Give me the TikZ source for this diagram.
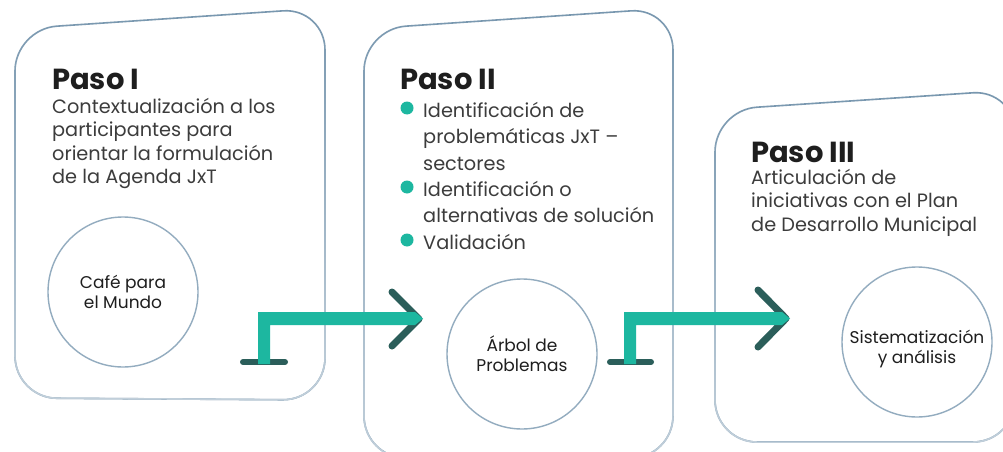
\documentclass[tikz,border=0pt]{standalone}
\usepackage{fontspec}
\setmainfont{Poppins}
\usetikzlibrary{fadings}
\definecolor{framedark}{HTML}{7897AF}
\definecolor{framelight}{HTML}{C2D0DB}
\definecolor{teal}{HTML}{1DB7A0}
\definecolor{darkteal}{HTML}{2B5E5A}
\definecolor{bodytext}{HTML}{3C3C3C}
\definecolor{titletext}{HTML}{1E1E1E}
\tikzset{
  panel/.style={draw=framedark, line width=1.6pt, rounded corners=42pt},
  panelfade/.style={draw=framelight, line width=1.6pt, rounded corners=42pt, path fading=north},
  ring/.style={circle, draw=framedark!80!white, line width=1.4pt, minimum size=150pt, inner sep=0pt,
     align=center, text=titletext, font=\fontsize{17}{20}\selectfont},
  title/.style={anchor=base west, inner sep=0pt, text=titletext, font=\fontsize{29}{32}\bfseries\selectfont},
  body/.style={anchor=base west, inner sep=0pt, align=left, text=bodytext, font=\fontsize{19.3}{23.5}\selectfont},
  bodyb/.style={anchor=base west, inner sep=0pt, align=left, text=bodytext, font=\fontsize{19.3}{26.5}\selectfont},
  dot/.style={circle, fill=teal, minimum size=13pt, inner sep=0pt},
  basebar/.style={draw=darkteal, line width=6pt, line cap=round},
  chevron/.style={draw=darkteal, line width=7pt, line cap=round, line join=round},
  flow/.style={fill=teal}
}
\begin{document}
\begin{tikzpicture}[x=1pt,y=-1pt]
\useasboundingbox (0,0) rectangle (1003,452);
\fill[white] (0,0) rectangle (1003,452);

% panels
\draw[panel] (15,29) -- (325,8) -- (325,400) -- (15,398) -- cycle;
\draw[panelfade] (15,29) -- (325,8) -- (325,400) -- (15,398) -- cycle;
\draw[panel] (364,29) -- (673,8) -- (673,458) -- (364,458) -- cycle;
\draw[panelfade] (364,29) -- (673,8) -- (673,458) -- (364,458) -- cycle;
\draw[panel] (715,110) -- (1015,90) -- (1015,442) -- (715,442) -- cycle;
\draw[panelfade] (715,110) -- (1015,90) -- (1015,442) -- (715,442) -- cycle;

% circles
\node[ring] (c1) at (123,292) {Café para\\el Mundo};
\node[ring] (c2) at (522,354) {Árbol de\\Problemas};
\node[ring] (c3) at (917,342) {\rule{0pt}{28pt}Sistematización\\y análisis};

% Paso I  (base anchor = baseline of last line)
\node[title] (t1) at (52,89) {Paso I};
\node[body] (b1) at (52,183.5) {Contextualización a los\\participantes para\\orientar la formulación\\de la Agenda JxT};

% Paso II
\node[title] (t2) at (400,89) {Paso II};
\node[dot] (d1) at (407,108) {};
\node[bodyb] (i1) at (423,170) {Identificación de\\problemáticas JxT –\\sectores};
\node[dot] (d2) at (407,187) {};
\node[bodyb] (i2) at (423,222.5) {Identificación o\\alternativas de solución};
\node[dot] (d3) at (407,240) {};
\node[bodyb] (i3) at (423,249) {Validación};

% Paso III
\node[title] (t3) at (751,162) {Paso III};
\node[body] (b3) at (751,231) {Articulación de\\iniciativas con el Plan\\de Desarrollo Municipal};

% arrow 1
\coordinate (a1l) at (243,362);
\coordinate (a1r) at (285,362);
\coordinate (a1u) at (392,292);
\coordinate (a1t) at (419,319);
\coordinate (a1d) at (392,346);
\draw[basebar] (a1l) -- (a1r);
\draw[chevron] (a1u) -- (a1t) -- (a1d);
\fill[flow] (258,364) -- (258,312) -- (415,312) -- (423,318.5) -- (415,325) -- (270,325) -- (270,364) -- cycle;

% arrow 2
\coordinate (a2l) at (610,362);
\coordinate (a2r) at (651,362);
\coordinate (a2u) at (758,290);
\coordinate (a2t) at (786,318.5);
\coordinate (a2d) at (758,347);
\draw[basebar] (a2l) -- (a2r);
\draw[chevron] (a2u) -- (a2t) -- (a2d);
\fill[flow] (624,364) -- (624,312) -- (782,312) -- (790,318.5) -- (782,325) -- (636,325) -- (636,364) -- cycle;
\end{tikzpicture}
\end{document}
